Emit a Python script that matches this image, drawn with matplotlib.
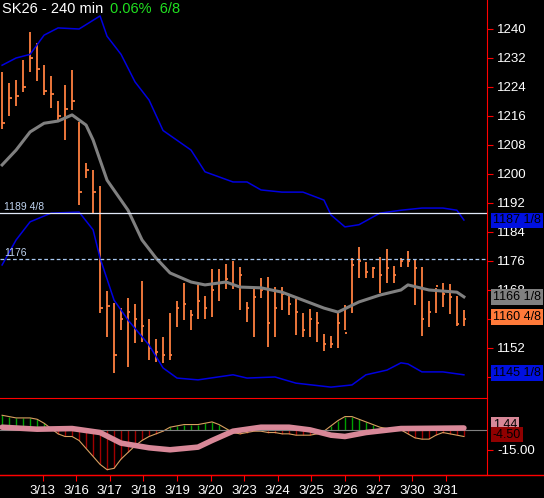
import numpy as np
import matplotlib.pyplot as plt

# --- price bars (240 min), high / low / close ---
highs = [1228.1, 1225.0, 1226.0, 1231.4, 1239.2, 1236.0, 1230.0, 1227.0, 1220.0, 1224.6,
         1228.7, 1214.3, 1203.0, 1201.0, 1196.7, 1167.7, 1164.4, 1163.0, 1165.8, 1164.0,
         1170.5, 1160.0, 1154.5, 1155.0, 1161.6, 1165.0, 1170.0, 1162.5, 1169.4, 1166.3,
         1173.8, 1173.8, 1175.2, 1176.0, 1174.3, 1164.7, 1168.6,
         1171.3, 1171.6, 1168.8, 1168.8, 1166.6, 1165.5, 1161.7, 1162.8, 1162.0, 1155.9,
         1155.3, 1161.7, 1163.9, 1176.8, 1179.9, 1175.7, 1174.3, 1177.1, 1179.3, 1174.6,
         1176.8, 1178.8, 1176.6, 1174.3, 1165.0, 1168.6, 1169.9, 1169.7, 1166.3, 1162.5]
lows = [1212.4, 1216.0, 1218.8, 1222.6, 1228.0, 1225.6, 1221.8, 1218.2, 1215.0, 1209.4,
        1217.7, 1191.4, 1199.0, 1189.2, 1161.7, 1155.0, 1145.0, 1157.0, 1146.8, 1153.4,
        1153.7, 1148.7, 1148.0, 1147.8, 1148.7, 1157.8, 1159.7, 1157.0, 1160.0, 1160.0,
        1160.6, 1165.0, 1168.3, 1168.3, 1162.5, 1159.2, 1155.0,
        1165.8, 1152.3, 1155.0, 1162.5, 1161.1, 1155.6, 1155.0, 1155.0, 1153.7, 1151.2,
        1152.0, 1152.0, 1157.0, 1161.7, 1171.3, 1171.3, 1171.3, 1167.2, 1169.9, 1169.9,
        1174.3, 1174.3, 1163.9, 1155.3, 1157.8, 1161.7, 1163.3, 1161.4, 1158.1, 1158.1]
closes = [1214.0, 1221.0, 1221.5, 1224.0, 1232.0, 1229.0, 1223.0, 1222.0, 1216.0, 1218.0,
          1220.0, 1195.0, 1201.0, 1195.0, 1163.0, 1163.5, 1150.0, 1160.0, 1162.0, 1160.0,
          1158.0, 1152.0, 1151.0, 1150.0, 1150.0, 1163.0, 1164.0, 1161.0, 1165.0, 1163.0,
          1168.0, 1170.0, 1171.0, 1169.5, 1172.0, 1163.0, 1166.0,
          1168.0, 1159.0, 1163.0, 1167.0, 1164.0, 1162.0, 1157.0, 1160.0, 1159.0, 1153.0,
          1153.0, 1159.0, 1156.0, 1175.0, 1176.0, 1173.0, 1174.0, 1172.0, 1174.0, 1172.0,
          1176.0, 1176.0, 1174.0, 1160.0, 1162.0, 1169.0, 1167.0, 1166.0, 1158.5, 1160.0]

# --- Bollinger bands sampled at bar positions ---
upper_x = [0, 2, 4, 6, 8, 11, 14, 15, 17, 19, 21, 23, 27, 29, 33, 35, 37, 40, 43, 46, 47,
           49, 51, 54, 57, 60, 63, 65, 66]
upper_y = [1230, 1232, 1233, 1238.3, 1240.3, 1240, 1243.6, 1238, 1233, 1225.4, 1220.4, 1212,
           1206.6, 1200.6, 1197.8, 1197.8, 1195.6, 1195, 1195, 1192.8, 1188.7, 1185.4, 1186,
           1189.2, 1190, 1190.6, 1190.6, 1190, 1187.3]
mid_x = [0, 2, 4, 6, 8, 10, 12, 13, 15, 18, 20, 22, 24, 27, 29, 32, 34, 37, 40, 43, 46, 48,
         51, 54, 57, 58, 61, 63, 65, 66]
mid_y = [1202.5, 1206.6, 1211.6, 1214, 1214.6, 1216.3, 1213.5, 1209.4, 1198.3, 1190, 1181.8,
         1176.8, 1172.7, 1170.2, 1169.4, 1170.2, 1168.8, 1168.6, 1167.4, 1165.2, 1163, 1161.9,
         1164.7, 1166.6, 1168, 1169.4, 1168, 1167.7, 1167.4, 1166.1]
low_x = [0, 2, 4, 7, 11, 13, 14, 16, 18, 21, 23, 25, 28, 33, 35, 39, 42, 47, 50, 52, 55, 57,
         58, 60, 63, 66]
low_y = [1174.9, 1181.8, 1186.8, 1189.2, 1189.5, 1184.6, 1176.8, 1165.2, 1159.7, 1152.8,
         1146.5, 1143.7, 1143.2, 1144.6, 1143.7, 1144, 1142.3, 1141.2, 1141.8, 1144.6, 1145.9,
         1147.9, 1147.6, 1145.4, 1145.4, 1144.6]

# --- MACD histogram and signal ---
macd = [11, 10, 9, 9, 9, 8, 5, 1, -3, -5, -5, -8, -14, -20, -26, -30, -29, -22, -17, -12,
        -8, -5, -3, -1, 2, 3, 4, 4, 4, 5, 6, 4, 1, -2, -3, -2, -1, -1, -2, -2, -3, -3, -4,
        -4, -4, -3, -1, 3, 7, 10, 10, 8, 6, 4, 2, 1, 0.5, 0, -3, -6, -7, -7, -4, -2, -3, -4, -5]
sig_x = [0, 5, 10, 14, 17, 21, 24, 28, 30, 33, 37, 41, 44, 47, 49, 52, 57, 66]
sig_y = [2, 0.5, 1, -2, -10, -13.5, -15, -13, -8, -1, 2, 2, 0, -4, -5, -2, 1, 1.4]

date_labels = ['3/13', '3/16', '3/17', '3/18', '3/19', '3/20', '3/23', '3/24', '3/25',
               '3/26', '3/27', '3/30', '3/31']
date_pos = [5.8, 10.6, 15.4, 20.2, 25.0, 29.8, 34.6, 39.4, 44.2, 49.0, 53.8, 58.6, 63.4]

plt.rcParams['font.family'] = ['Liberation Sans', 'DejaVu Sans']

n = len(highs)
idx = np.arange(n)
W, H = 544, 498
fig = plt.figure(figsize=(W / 100, H / 100), dpi=100, facecolor='black')
ax = fig.add_axes([0, 1 - 398 / H, 487 / W, 398 / H], facecolor='black')
ax2 = fig.add_axes([0, 1 - 475 / H, 487 / W, 77 / H], facecolor='black', sharex=ax)

orange = '#ff8040'
ax.vlines(idx, lows, highs, color=orange, lw=1.3)
ax.hlines(closes, idx, idx + 0.35, color=orange, lw=1.3)
ax.plot(upper_x, upper_y, color='#0000e0', lw=1.1)
ax.plot(low_x, low_y, color='#0000e0', lw=1.1)
ax.plot(mid_x, mid_y, color='#808080', lw=2.2)
ax.axhline(1189.2, color='#e0e8f8', lw=0.9)
ax.axhline(1176.5, color='#a8c8f0', lw=0.9, ls=(0, (3, 2)))
ax.text(0.3, 1190.2, '1189 4/8', color='#c0d4f0', fontsize=7.5)
ax.text(0.3, 1177.5, '1176', color='#c0d4f0', fontsize=7.5)
fig.text(2 / W, 1 - 2 / H, 'SK26 - 240 min', color='white', fontsize=10.5, va='top')
fig.text(110 / W, 1 - 2 / H, '0.06%  6/8', color='#20e020', fontsize=10.5, va='top')
ax.set_xlim(-0.3, 69.3)
ax.set_ylim(1138.2, 1248)
ax.yaxis.tick_right()
ax.set_yticks(np.arange(1144, 1241, 8))
ax.tick_params(axis='y', colors='red', labelcolor='white', labelsize=9.5, length=4)
ax.tick_params(axis='x', bottom=False, labelbottom=False)
for s in ['top', 'left', 'bottom']:
    ax.spines[s].set_visible(False)
ax.spines['right'].set_color('red')


def tag(a, y, txt, fc, tc='black'):
    a.text(1.012, y, txt, transform=a.get_yaxis_transform(), fontsize=9, color=tc,
           va='center', ha='left', clip_on=False,
           bbox=dict(boxstyle='square,pad=0.15', fc=fc, ec='none'), zorder=5)


tag(ax, 1187.2, '1187 1/8', '#0010e0')
tag(ax, 1166.1, '1166 1/8', '#808080')
tag(ax, 1160.5, '1160 4/8', '#ff7a3a')
tag(ax, 1145.1, '1145 1/8', '#0010e0')

colors = ['#00a000' if v > 0 else '#a00000' for v in macd]
ax2.vlines(idx, 0, macd, color=colors, lw=1)
ax2.plot(idx, macd, color='#d8a060', lw=0.8)
ax2.axhline(0, color='#808080', lw=0.8)
ax2.plot(sig_x, sig_y, color='#d88898', lw=4, solid_capstyle='round')
ax2.set_ylim(-34, 24)
ax2.yaxis.tick_right()
ax2.set_yticks([-15])
ax2.set_yticklabels(['-15.00'])
ax2.tick_params(axis='y', colors='red', labelcolor='white', labelsize=9.5, length=4)
tag(ax2, 3.5, '1.44', '#d88898')
tag(ax2, -3.5, '-4.50', '#900000')
ax2.spines['left'].set_visible(False)
for s in ['right', 'bottom', 'top']:
    ax2.spines[s].set_color('red')
ax2.set_xticks(date_pos)
ax2.set_xticklabels(date_labels)
ax2.tick_params(axis='x', colors='red', labelcolor='white', labelsize=9.5, length=4)
fig.add_artist(plt.Line2D([0, 1], [1 - 475 / H, 1 - 475 / H], color='red', lw=1,
                          transform=fig.transFigure))

fig.savefig('out.png', dpi=100, facecolor='black')
